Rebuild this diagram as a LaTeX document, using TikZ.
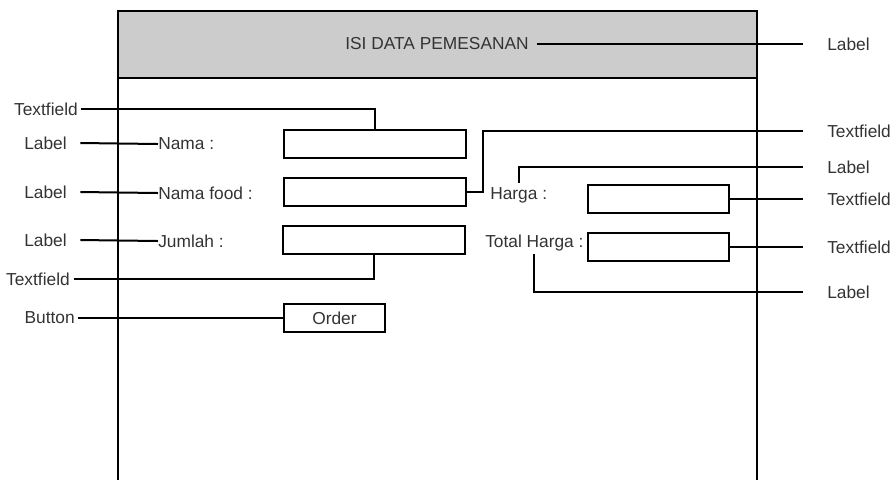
\documentclass[tikz,border=0pt]{standalone}
\usepackage{fontspec}
\setmainfont{Liberation Sans}
\usetikzlibrary{fit}
\begin{document}
\begin{tikzpicture}[x=0.75pt,y=-0.75pt,
  every node/.style={text=black!80, font=\fontsize{13}{15}\selectfont},
  txt/.style={inner sep=0pt},
  box/.style={draw=black, line width=1.5pt, inner sep=0pt, fill=white},
  wire/.style={draw=black, line width=1.5pt},
  frame/.style={draw=black, line width=1.5pt}]
\useasboundingbox (0,0) rectangle (895,480);
% frame
\fill[black!20] (118,11) rectangle (757,78);
\draw[frame] (118,480) -- (118,11) -- (757,11) -- (757,480);
\draw[frame] (118,78) -- (757,78);
% header
\node[txt] (hdr) at (437,44) {ISI DATA PEMESANAN};
\node[txt, anchor=west] (rh) at (827,44) {Label};
\draw[wire] ([xshift=6]hdr.east) -- ([xshift=-18]rh.west);
% left column boxes
\node[box, fit={(284,130) (466,158)}] (tf1) {};
\node[box, fit={(284,178) (466,206)}] (tf2) {};
\node[box, fit={(283,226) (465,254)}] (tf5) {};
\node[box, fit={(284,304) (385,332)}] (order) {};
\node[txt] at (order.center) {Order};
% left labels
\node[txt, anchor=east] (tfl1) at (78,109) {Textfield};
\node[txt, anchor=east] (l1) at (67,143) {Label};
\node[txt, anchor=east] (l2) at (67,192) {Label};
\node[txt, anchor=east] (l3) at (67,240) {Label};
\node[txt, anchor=east] (tfl2) at (70,279) {Textfield};
\node[txt, anchor=east] (btn) at (75,318) {Button};
% field captions
\node[txt, anchor=west] (nama) at (158,144) {Nama :};
\node[txt, anchor=west] (namaf) at (158,193) {Nama food :};
\node[txt, anchor=west] (jml) at (158,241) {Jumlah :};
% connectors left
\draw[wire] ([xshift=2]tfl1.east) -| (tf1.north);
\draw[wire] ([xshift=10]l1.east) -- (nama.west);
\draw[wire] ([xshift=10]l2.east) -- (namaf.west);
\draw[wire] ([xshift=10]l3.east) -- (jml.west);
\draw[wire] ([xshift=3]tfl2.east) -| (tf5.south);
\draw[wire] ([xshift=2]btn.east) -- (order.west);
% right column
\node[txt, anchor=west] (harga) at (490,195) {Harga :};
\node[txt, anchor=west] (th) at (485,243) {Total Harga :};
\node[box, fit={(588,185) (729,213)}] (tf3) {};
\node[box, fit={(588,233) (729,261)}] (tf4) {};
% right labels
\node[txt, anchor=west] (rt1) at (827,131) {Textfield};
\node[txt, anchor=west] (rl1) at (827,167) {Label};
\node[txt, anchor=west] (rt2) at (827,199) {Textfield};
\node[txt, anchor=west] (rt3) at (827,247) {Textfield};
\node[txt, anchor=west] (rl2) at (827,292) {Label};
% right connectors
\draw[wire] (tf2.east) -- ++(16,0) |- ([xshift=-18]rt1.west);
\draw[wire] ([yshift=3pt]harga.north) |- ([xshift=-18]rl1.west);
\draw[wire] (tf3.east) -- ([xshift=-18]rt2.west);
\draw[wire] (tf4.east) -- ([xshift=-18]rt3.west);
\draw[wire] ([yshift=-2pt]th.south) |- ([xshift=-18]rl2.west);
\end{tikzpicture}
\end{document}
